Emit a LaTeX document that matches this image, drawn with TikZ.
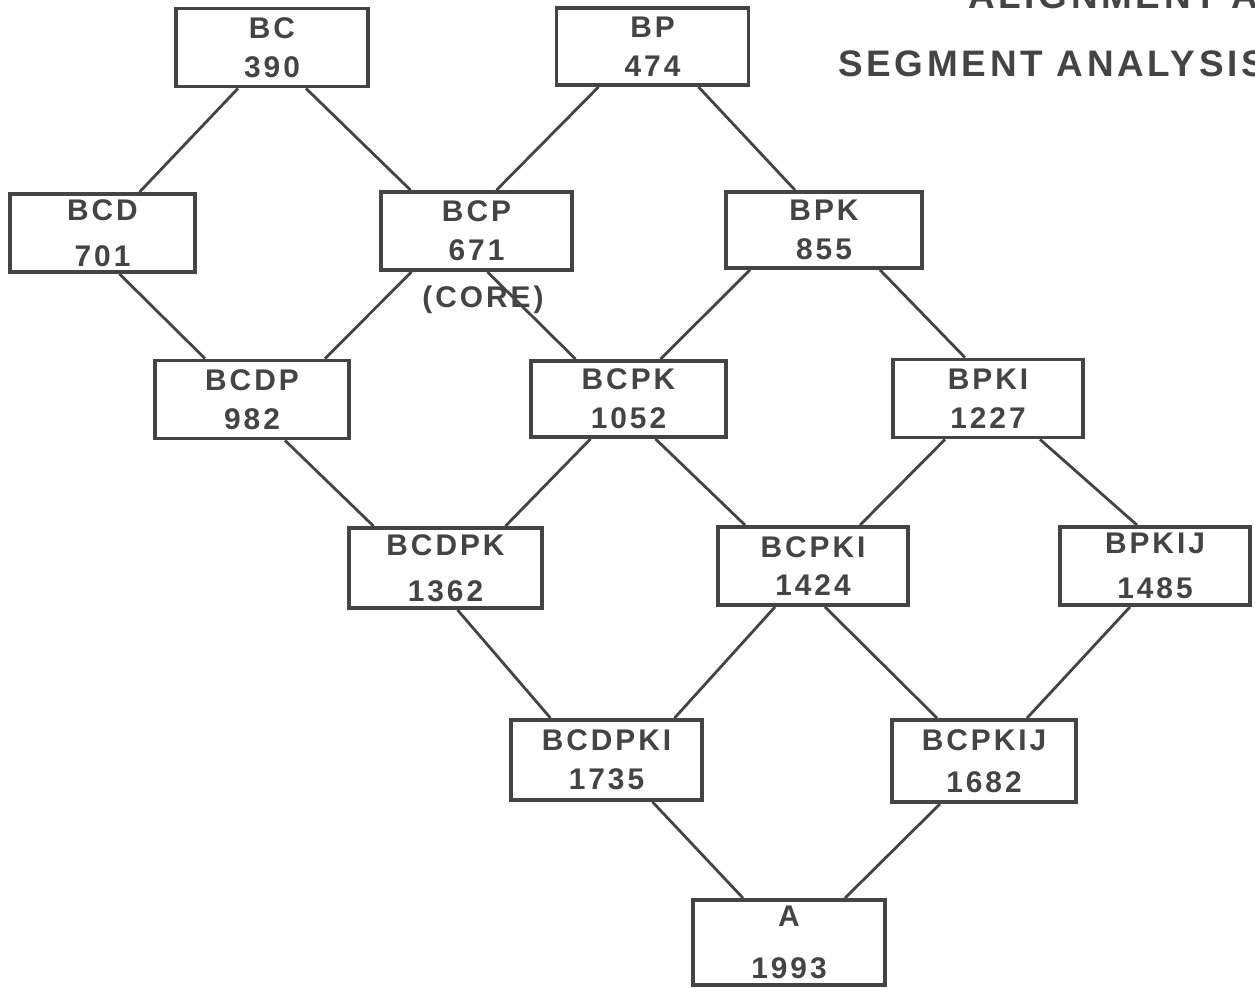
\documentclass[tikz,border=0pt]{standalone}
\usepackage{fontspec}
\usetikzlibrary{calc}
\newfontfamily\boxfont[LetterSpace=10]{Liberation Sans}
\definecolor{ink}{HTML}{444444}
\tikzset{
	box/.style = {draw = ink, line width = 2.2pt, text = ink, inner sep = 0pt,
		minimum width = 3.84cm, minimum height = 1.56cm, align = center,
		font = \boxfont\bfseries\fontsize{17}{22}\selectfont},
	link/.style = {draw = ink, line width = 1.6pt},
	title/.style = {text = ink, inner sep = 0pt, anchor = base west,
		font = \boxfont\bfseries\fontsize{21}{25}\selectfont}
}
\begin{document}
\begin{tikzpicture}[x = 0.02cm, y = -0.02cm]
	\clip (0,0) rectangle (1255,988);
	\fill [white] (0,0) rectangle (1255,988);
	% heading, cut at the frame
	\node [title] (head1) at (968,8) {ALIGNMENT A};
	\node [title] (head2) at (838,76) {SEGMENT ANALYSIS};
	% boxes
	\node [box] (bc) at (272,47.5) {BC\\390};
	\node [box, minimum height = 1.54cm] (bp) at (652.5,46.5) {BP\\474};
	\node [box, minimum width = 3.7cm] (bcd) at (102.5,233) {BCD\\[4pt]701};
	\node [box, minimum width = 3.82cm] (bcp) at (476.5,231) {BCP\\671};
	\node [box, minimum width = 3.92cm, minimum height = 1.52cm] (bpk) at (824,230) {BPK\\855};
	\node [inner sep = 0pt, text = ink, font = \boxfont\bfseries\fontsize{17}{22}\selectfont] (core) at (483,300) {(CORE)};
	\node [box, minimum width = 3.88cm] (bcdp) at (252,399.5) {BCDP\\982};
	\node [box, minimum width = 3.9cm, minimum height = 1.52cm] (bcpk) at (628.5,399) {BCPK\\1052};
	\node [box, minimum width = 3.8cm] (bpki) at (988,398.5) {BPKI\\1227};
	\node [box, minimum width = 3.86cm, minimum height = 1.6cm] (bcdpk) at (445.5,568) {BCDPK\\[4pt]1362};
	\node [box, minimum width = 3.8cm] (bcpki) at (813,566) {BCPKI\\1424};
	\node [box, minimum width = 3.8cm] (bpkij) at (1155,566) {BPKIJ\\[4pt]1485};
	\node [box, minimum width = 3.82cm, minimum height = 1.6cm] (bcdpki) at (606.5,760) {BCDPKI\\1735};
	\node [box, minimum width = 3.68cm, minimum height = 1.64cm] (bcpkij) at (984,761) {BCPKIJ\\[2pt]1682};
	\node [box, minimum height = 1.7cm] (a) at (789,942.5) {A\\[8pt]1993};
	% connectors
	\draw [link] ($(bc.south)+(-34,0)$) -- ($(bcd.north)+(37,0)$);
	\draw [link] ($(bc.south)+(34,0)$) -- ($(bcp.north)+(-66,0)$);
	\draw [link] ($(bp.south)+(-54,0)$) -- ($(bcp.north)+(20,0)$);
	\draw [link] ($(bp.south)+(46,0)$) -- ($(bpk.north)+(-29,0)$);
	\draw [link] ($(bcd.south)+(17,0)$) -- ($(bcdp.north)+(-47,0)$);
	\draw [link] ($(bcp.south)+(-65,0)$) -- ($(bcdp.north)+(73,0)$);
	\draw [link] ($(bcp.south)+(11,0)$) -- ($(bcpk.north)+(-53,0)$);
	\draw [link] ($(bpk.south)+(-74,0)$) -- ($(bcpk.north)+(32,0)$);
	\draw [link] ($(bpk.south)+(56,0)$) -- ($(bpki.north)+(-23,0)$);
	\draw [link] ($(bcdp.south)+(33,0)$) -- ($(bcdpk.north)+(-72,0)$);
	\draw [link] ($(bcpk.south)+(-38,0)$) -- ($(bcdpk.north)+(60,0)$);
	\draw [link] ($(bcpk.south)+(27,0)$) -- ($(bcpki.north)+(-68,0)$);
	\draw [link] ($(bpki.south)+(-43,0)$) -- ($(bcpki.north)+(47,0)$);
	\draw [link] ($(bpki.south)+(52,0)$) -- ($(bpkij.north)+(-18,0)$);
	\draw [link] ($(bcdpk.south)+(12,0)$) -- ($(bcdpki.north)+(-56,0)$);
	\draw [link] ($(bcpki.south)+(-38,0)$) -- ($(bcdpki.north)+(68,0)$);
	\draw [link] ($(bcpki.south)+(12,0)$) -- ($(bcpkij.north)+(-47,0)$);
	\draw [link] ($(bpkij.south)+(-25,0)$) -- ($(bcpkij.north)+(43,0)$);
	\draw [link] ($(bcdpki.south)+(46,0)$) -- ($(a.north)+(-46,0)$);
	\draw [link] ($(bcpkij.south)+(-44,0)$) -- ($(a.north)+(56,0)$);
\end{tikzpicture}
\end{document}
